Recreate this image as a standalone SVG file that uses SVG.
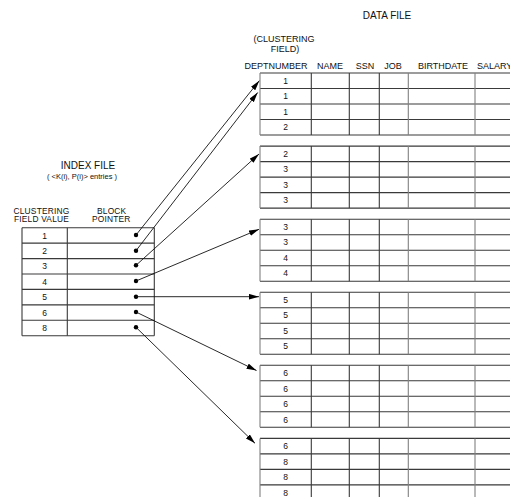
<svg xmlns="http://www.w3.org/2000/svg" width="510" height="497" viewBox="0 0 510 497">
  <style>
    text { font-family: "Liberation Sans", Arial, sans-serif; fill: #111; }
    .title { font-size: 10px; text-anchor: middle; }
    .hdr { font-size: 9px; text-anchor: middle; }
    .hdr2 { font-size: 8.4px; text-anchor: middle; letter-spacing: 0.2px; }
    .small { font-size: 7.5px; text-anchor: middle; }
    .val { font-size: 8.5px; text-anchor: middle; }
    .grid { stroke: #3a3a3a; stroke-width: 1.1; fill: none; }
    .soft { stroke: #808080; stroke-width: 1.1; fill: none; }
    .link { stroke: #111; stroke-width: 0.9; fill: none; marker-end: url(#arrow); }
    .dot { fill: #000; }
  </style>
  <defs>
    <marker id="arrow" markerUnits="userSpaceOnUse" markerWidth="11" markerHeight="6" refX="10" refY="2.8" orient="auto">
      <path d="M0,0 L10,2.8 L0,5.6 z" fill="#000"/>
    </marker>
    <!-- one data block: 4 rows x 6 columns, origin at its top-left corner -->
    <g id="block">
      <path class="grid" d="M260,0 H512 M260,15.5 H512 M260,31 H512 M260,46.5 H512 M260,62 H512"/>
      <path class="grid" d="M311.3,0 V62 M349.3,0 V62 M379.3,0 V62"/>
      <path class="soft" d="M260,0 V62 M408.3,0 V62 M475,0 V62"/>
    </g>
  </defs>

  <rect width="510" height="497" fill="#fff"/>

  <!-- data file headings -->
  <g id="data-heading">
    <text class="title" x="387" y="19">DATA FILE</text>
    <text class="hdr" x="284" y="42">(CLUSTERING</text>
    <text class="hdr" x="285" y="51.7">FIELD)</text>
    <text class="hdr" x="276" y="68.5">DEPTNUMBER</text>
    <text class="hdr" x="330" y="68.5">NAME</text>
    <text class="hdr" x="365" y="68.5">SSN</text>
    <text class="hdr" x="393" y="68.5">JOB</text>
    <text class="hdr" x="443" y="68.5">BIRTHDATE</text>
    <text class="hdr" x="477" y="68.5" style="text-anchor:start">SALARY</text>
  </g>

  <!-- data blocks -->
  <g id="block1" transform="translate(0,73)">
    <use href="#block"/>
    <text class="val" x="285.5" y="10.8">1</text>
    <text class="val" x="285.5" y="26.3">1</text>
    <text class="val" x="285.5" y="41.8">1</text>
    <text class="val" x="285.5" y="57.3">2</text>
  </g>
  <g id="block2" transform="translate(0,146.1)">
    <use href="#block"/>
    <text class="val" x="285.5" y="10.8">2</text>
    <text class="val" x="285.5" y="26.3">3</text>
    <text class="val" x="285.5" y="41.8">3</text>
    <text class="val" x="285.5" y="57.3">3</text>
  </g>
  <g id="block3" transform="translate(0,219.2)">
    <use href="#block"/>
    <text class="val" x="285.5" y="10.8">3</text>
    <text class="val" x="285.5" y="26.3">3</text>
    <text class="val" x="285.5" y="41.8">4</text>
    <text class="val" x="285.5" y="57.3">4</text>
  </g>
  <g id="block4" transform="translate(0,292.2)">
    <use href="#block"/>
    <text class="val" x="285.5" y="10.8">5</text>
    <text class="val" x="285.5" y="26.3">5</text>
    <text class="val" x="285.5" y="41.8">5</text>
    <text class="val" x="285.5" y="57.3">5</text>
  </g>
  <g id="block5" transform="translate(0,365.3)">
    <use href="#block"/>
    <text class="val" x="285.5" y="10.8">6</text>
    <text class="val" x="285.5" y="26.3">6</text>
    <text class="val" x="285.5" y="41.8">6</text>
    <text class="val" x="285.5" y="57.3">6</text>
  </g>
  <g id="block6" transform="translate(0,438.4)">
    <use href="#block"/>
    <text class="val" x="285.5" y="10.8">6</text>
    <text class="val" x="285.5" y="26.3">8</text>
    <text class="val" x="285.5" y="41.8">8</text>
    <text class="val" x="285.5" y="57.3">8</text>
  </g>

  <!-- index file -->
  <g id="index-file">
    <text class="title" x="88" y="169">INDEX FILE</text>
    <text class="small" x="82" y="178.5">( &lt;K(i), P(i)&gt; entries )</text>
    <text class="hdr2" x="41.5" y="213.5">CLUSTERING</text>
    <text class="hdr2" x="41.5" y="222">FIELD VALUE</text>
    <text class="hdr2" x="111.7" y="213.5">BLOCK</text>
    <text class="hdr2" x="111.2" y="222">POINTER</text>
    <path class="grid" d="M22,227.7 H154.3 M22,243.1 H154.3 M22,258.6 H154.3 M22,274 H154.3 M22,289.4 H154.3 M22,304.9 H154.3 M22,320.3 H154.3 M22,335.7 H154.3"/>
    <path class="grid" d="M22,227.7 V335.7 M67.3,227.7 V335.7 M154.3,227.7 V335.7"/>
    <text class="val" x="44.5" y="238.5">1</text>
    <text class="val" x="44.5" y="254">2</text>
    <text class="val" x="44.5" y="269.4">3</text>
    <text class="val" x="44.5" y="284.8">4</text>
    <text class="val" x="44.5" y="300.3">5</text>
    <text class="val" x="44.5" y="315.7">6</text>
    <text class="val" x="44.5" y="331.1">8</text>
    <circle class="dot" cx="136" cy="235" r="2.2"/>
    <circle class="dot" cx="136" cy="250.7" r="2.2"/>
    <circle class="dot" cx="136" cy="265.3" r="2.2"/>
    <circle class="dot" cx="136" cy="281" r="2.2"/>
    <circle class="dot" cx="136" cy="296.7" r="2.2"/>
    <circle class="dot" cx="136" cy="312" r="2.2"/>
    <circle class="dot" cx="136" cy="327.3" r="2.2"/>
  </g>

  <!-- block pointers -->
  <g id="connectors">
    <line class="link" x1="136" y1="235" x2="259.3" y2="80.7"/>
    <line class="link" x1="136" y1="250.7" x2="257.7" y2="92.5"/>
    <line class="link" x1="136" y1="265.3" x2="259" y2="154"/>
    <line class="link" x1="136" y1="281" x2="259" y2="229.3"/>
    <line class="link" x1="136" y1="296.7" x2="259" y2="296.7"/>
    <line class="link" x1="136" y1="312" x2="256.5" y2="370.5"/>
    <line class="link" x1="136" y1="327.3" x2="255" y2="443.3"/>
  </g>
</svg>
